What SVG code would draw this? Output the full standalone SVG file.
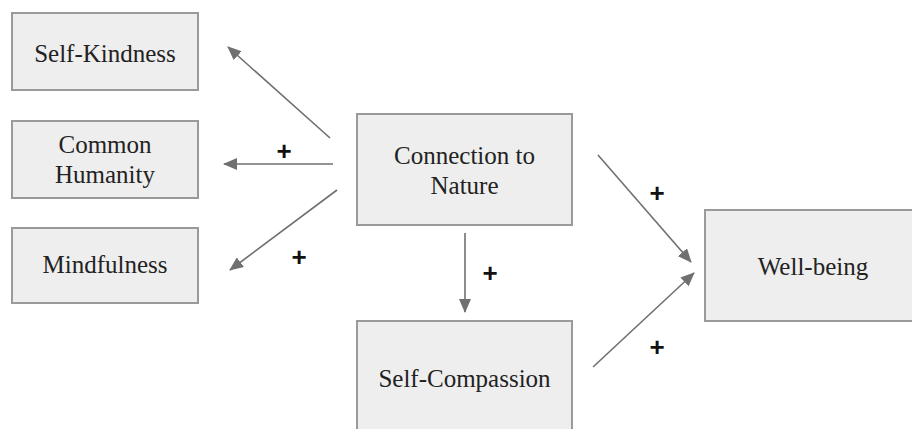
<svg xmlns="http://www.w3.org/2000/svg" width="912" height="429" viewBox="0 0 912 429">
<style>
.box{fill:#eeeeee;stroke:#9a9a9a;stroke-width:2}
.edge{stroke:#707070;stroke-width:1.6;fill:none;marker-end:url(#ah)}
.lbl{font-family:'Liberation Serif','DejaVu Serif',serif;font-size:25px;fill:#222222;text-anchor:middle}
.plus{font-family:'Liberation Sans',sans-serif;font-size:26px;font-weight:bold;fill:#111111;text-anchor:middle}
</style>
<defs>
<marker id="ah" markerUnits="userSpaceOnUse" markerWidth="14" markerHeight="12" refX="13" refY="6" orient="auto">
<path d="M0,0 L14,6 L0,12 Z" fill="#707070"/>
</marker>
</defs>
<rect width="912" height="429" fill="#ffffff"/>
<g id="self-kindness"><rect class="box" x="12" y="13" width="186" height="77"/><text class="lbl" x="105" y="62">Self-Kindness</text></g>
<g id="common-humanity"><rect class="box" x="12" y="121" width="186" height="77"/><text class="lbl" x="105" y="153">Common</text><text class="lbl" x="105" y="183">Humanity</text></g>
<g id="mindfulness"><rect class="box" x="12" y="228" width="186" height="75"/><text class="lbl" x="105" y="273">Mindfulness</text></g>
<g id="connection-to-nature"><rect class="box" x="357" y="114" width="215" height="111"/><text class="lbl" x="464.5" y="164">Connection to</text><text class="lbl" x="464.5" y="194">Nature</text></g>
<g id="self-compassion"><rect class="box" x="357" y="321" width="215" height="120"/><text class="lbl" x="464.5" y="387">Self-Compassion</text></g>
<g id="well-being"><rect class="box" x="705" y="210" width="220" height="111"/><text class="lbl" x="813" y="275">Well-being</text></g>
<g id="connectors">
<line class="edge" x1="330" y1="138" x2="228" y2="47"/>
<line class="edge" x1="333" y1="164" x2="224" y2="164"/>
<line class="edge" x1="337" y1="190" x2="230" y2="270"/>
<line class="edge" x1="465" y1="233" x2="465" y2="312"/>
<line class="edge" x1="598" y1="155" x2="691" y2="262"/>
<line class="edge" x1="593" y1="367" x2="694" y2="273"/>
<text class="plus" x="284" y="160">+</text>
<text class="plus" x="299" y="266">+</text>
<text class="plus" x="490" y="282">+</text>
<text class="plus" x="657" y="202">+</text>
<text class="plus" x="657" y="356">+</text>
</g>
</svg>
